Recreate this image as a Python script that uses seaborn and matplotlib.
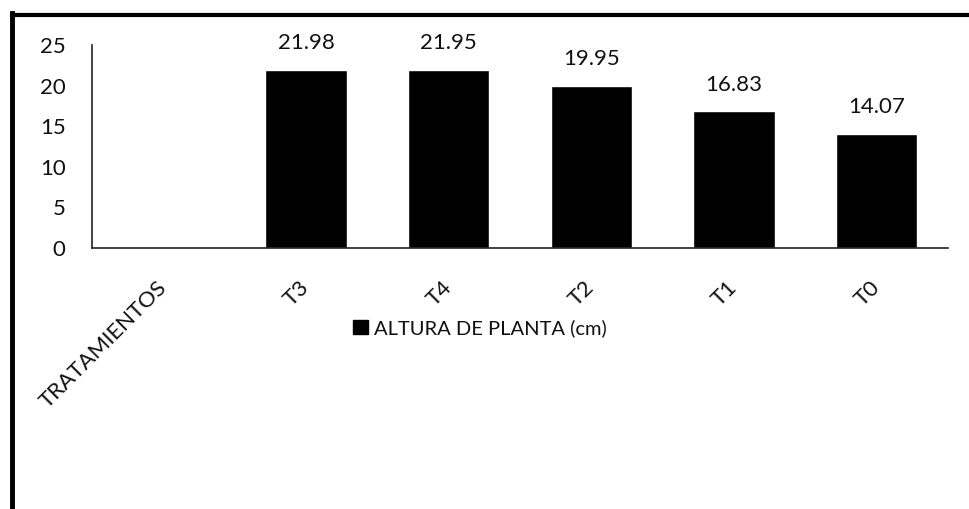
import numpy as np
import pandas as pd
import matplotlib
matplotlib.use("Agg")
import matplotlib.pyplot as plt
import matplotlib.transforms as mtransforms
from matplotlib.patches import Patch
from matplotlib.lines import Line2D
import seaborn as sns

# Plant height per treatment (cm)
categories = ["TRATAMIENTOS", "T3", "T4", "T2", "T1", "T0"]
treatments = ["T3", "T4", "T2", "T1", "T0"]
heights = [21.98, 21.95, 19.95, 16.83, 14.07]
series_name = "ALTURA DE PLANTA (cm)"
y_ticks = [0, 5, 10, 15, 20, 25]

sns.set_theme(style="white")
plt.rcParams["font.family"] = ["Lato", "DejaVu Sans"]

df = pd.DataFrame({"tratamiento": treatments, "altura": heights})

fig = plt.figure(figsize=(9.69, 5.09), dpi=100)
ax = fig.add_axes([92 / 969, 1 - 248 / 509, (948 - 92) / 969, (248 - 45) / 509])

sns.barplot(data=df, x="tratamiento", y="altura", order=categories,
            color="black", saturation=1, width=0.57, ax=ax, errorbar=None)

for c in ax.containers:
    ax.bar_label(c, fmt="%.2f", padding=12, fontsize=16, color="#111111")

ax.set_xlim(-0.5, len(categories) - 0.5)
ax.set_ylim(0, 25)
ax.set_yticks(y_ticks)
ax.set_xlabel("")
ax.set_ylabel("")
ax.tick_params(axis="y", length=0, pad=19, labelsize=16, labelcolor="#111111")
ax.tick_params(axis="x", length=0, pad=21, labelsize=16, labelcolor="#111111")

# Slanted category labels, nudged slightly right of their slot centre
shift = mtransforms.ScaledTranslation(7 / 100, 0, fig.dpi_scale_trans)
for lbl in ax.get_xticklabels():
    lbl.set_rotation(45)
    lbl.set_ha("right")
    lbl.set_transform(lbl.get_transform() + shift)

for side in ["top", "right"]:
    ax.spines[side].set_visible(False)
for side in ["left", "bottom"]:
    ax.spines[side].set_color("#222222")
    ax.spines[side].set_linewidth(1.2)

handle = Patch(facecolor="black", edgecolor="black", label=series_name)
fig.legend(handles=[handle], loc="center left",
           bbox_to_anchor=(353 / 969, 1 - 328 / 509), frameon=False,
           fontsize=14.5, handlelength=0.75, handleheight=0.75,
           handletextpad=0.3, borderpad=0, borderaxespad=0,
           labelcolor="#111111")

# Outer frame edges (left and top)
fig.add_artist(Line2D([12 / 969, 12 / 969], [0, 1 - 13 / 509],
                      transform=fig.transFigure, color="black", lw=3.5,
                      solid_capstyle="projecting"))
fig.add_artist(Line2D([12 / 969, 1], [1 - 15 / 509, 1 - 15 / 509],
                      transform=fig.transFigure, color="black", lw=3.0))

fig.savefig("out.png", dpi=100, facecolor="white")
